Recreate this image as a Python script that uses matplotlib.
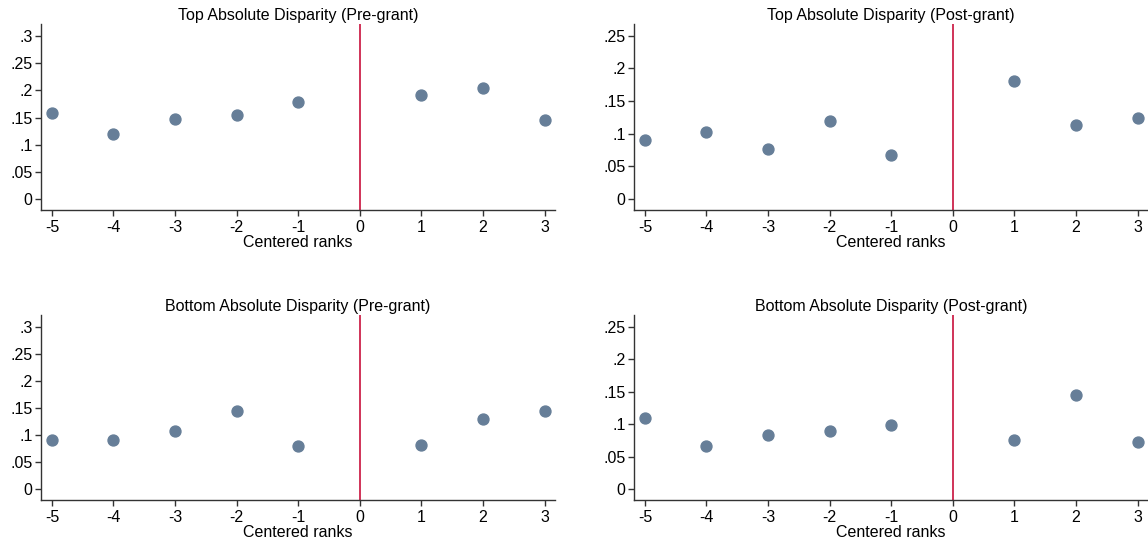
import matplotlib
matplotlib.use("Agg")
import matplotlib.pyplot as plt

plt.rcParams['font.family'] = ['Liberation Sans', 'DejaVu Sans']

ranks = [-5, -4, -3, -2, -1, 1, 2, 3]

top_pre = [0.158, 0.120, 0.148, 0.155, 0.178, 0.191, 0.205, 0.145]
top_post = [0.091, 0.102, 0.077, 0.120, 0.068, 0.180, 0.114, 0.124]
bottom_pre = [0.091, 0.090, 0.107, 0.144, 0.079, 0.081, 0.129, 0.145]
bottom_post = [0.109, 0.066, 0.083, 0.090, 0.098, 0.075, 0.145, 0.072]

titles = ["Top Absolute Disparity (Pre-grant)", "Top Absolute Disparity (Post-grant)",
          "Bottom Absolute Disparity (Pre-grant)", "Bottom Absolute Disparity (Post-grant)"]
series = [top_pre, top_post, bottom_pre, bottom_post]

yticks_pre = [0, 0.05, 0.1, 0.15, 0.2, 0.25, 0.3]
yticks_post = [0, 0.05, 0.1, 0.15, 0.2, 0.25]
ylabels_pre = ["0", ".05", ".1", ".15", ".2", ".25", ".3"]
ylabels_post = ["0", ".05", ".1", ".15", ".2", ".25"]
xticks = [-5, -4, -3, -2, -1, 0, 1, 2, 3]

W, H = 1148, 548
fig = plt.figure(figsize=(W / 100, H / 100), dpi=100)

# axes boxes in pixels: left, top, right, bottom
boxes = [(41, 24, 555, 210), (634, 24, 1148, 210),
         (41, 315, 555, 500), (634, 315, 1148, 500)]

dot = "#667e98"
red = "#c8103c"
spine = "#333333"
fs = 11.5

for i in range(4):
    l, t, r, b = boxes[i]
    ax = fig.add_axes([l / W, 1 - b / H, (r - l) / W, (b - t) / H])
    ax.scatter(ranks, series[i], s=62, color=dot, zorder=3, clip_on=False)
    ax.axvline(0, color=red, lw=1.2)
    ax.set_xlim(-5.177, 3.17)
    if i % 2 == 0:
        ax.set_ylim(-0.020, 0.322)
        ax.set_yticks(yticks_pre)
        ax.set_yticklabels(ylabels_pre)
    else:
        ax.set_ylim(-0.017, 0.268)
        ax.set_yticks(yticks_post)
        ax.set_yticklabels(ylabels_post)
    ax.set_xticks(xticks)
    ax.set_xticklabels([str(x) for x in xticks])
    ax.set_title(titles[i], fontsize=fs, pad=3)
    ax.set_xlabel("Centered ranks", fontsize=fs, labelpad=0)
    for s in ["top", "right"]:
        ax.spines[s].set_visible(False)
    for s in ["left", "bottom"]:
        ax.spines[s].set_color(spine)
        ax.spines[s].set_linewidth(1.0)
    ax.tick_params(axis="x", colors=spine, labelcolor="black", labelsize=fs, length=4.5, width=1.0, pad=2.5)
    ax.tick_params(axis="y", colors=spine, labelcolor="black", labelsize=fs, length=4.5, width=1.0, pad=1.5)

plt.savefig("out.png", dpi=100)
